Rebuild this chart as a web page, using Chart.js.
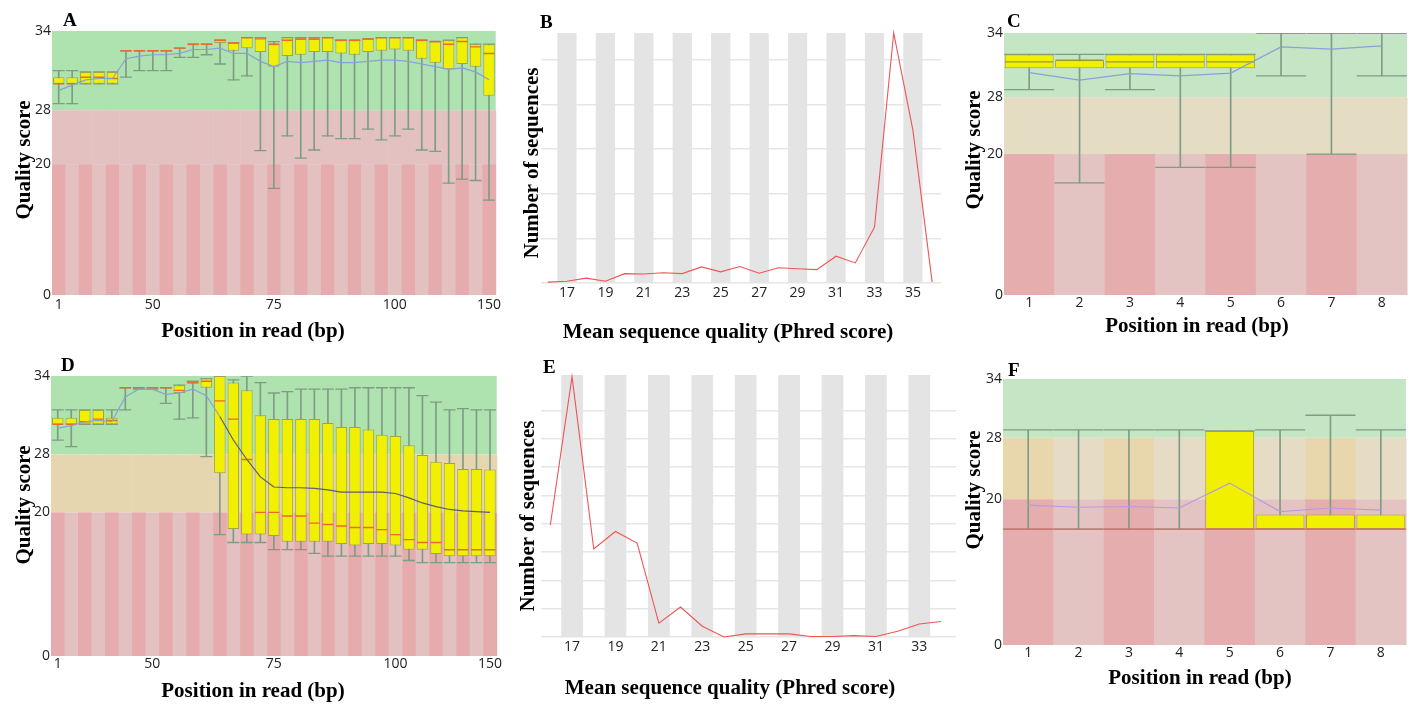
<!DOCTYPE html>
<html><head><meta charset="utf-8">
<script src="https://cdn.jsdelivr.net/npm/chart.js@4.4.1/dist/chart.umd.min.js"></script>
<style>
body{margin:0;background:#fff;width:1412px;height:711px;position:relative;overflow:hidden}
canvas{position:absolute}
.lbl{position:absolute;font-weight:bold;font-family:"Liberation Serif","Times New Roman",serif;color:#000;white-space:nowrap;line-height:1}
.letter{font-size:19px}
.xt{font-size:21px;transform:translate(-50%,-50%)}
.yt{font-size:21px;transform:translate(-50%,-50%) rotate(-90deg)}
</style></head><body>
<canvas id="cB"></canvas><canvas id="cE"></canvas>
<canvas id="cA"></canvas><canvas id="cC"></canvas>
<canvas id="cD"></canvas><canvas id="cF"></canvas>
<div class="lbl letter" style="left:63px;top:10px">A</div>
<div class="lbl letter" style="left:540px;top:12px">B</div>
<div class="lbl letter" style="left:1007px;top:11px">C</div>
<div class="lbl letter" style="left:61px;top:355px">D</div>
<div class="lbl letter" style="left:543px;top:357px">E</div>
<div class="lbl letter" style="left:1008px;top:360px">F</div>
<div class="lbl xt" style="left:253px;top:330px">Position in read (bp)</div>
<div class="lbl xt" style="left:728px;top:331px">Mean sequence quality (Phred score)</div>
<div class="lbl xt" style="left:1197px;top:325px">Position in read (bp)</div>
<div class="lbl xt" style="left:253px;top:690px">Position in read (bp)</div>
<div class="lbl xt" style="left:730px;top:687px">Mean sequence quality (Phred score)</div>
<div class="lbl xt" style="left:1200px;top:677px">Position in read (bp)</div>
<div class="lbl yt" style="left:23px;top:160px">Quality score</div>
<div class="lbl yt" style="left:531px;top:163px">Number of sequences</div>
<div class="lbl yt" style="left:973px;top:150px">Quality score</div>
<div class="lbl yt" style="left:23px;top:505px">Quality score</div>
<div class="lbl yt" style="left:527px;top:516px">Number of sequences</div>
<div class="lbl yt" style="left:973px;top:490px">Quality score</div>
<script>
// ---------- DATA ----------
const longPositions = ['1','','','','','','','50','','','','','','','','','75','','','','','','','','','100','','','','','','','150'];
const shortPositions = ['1','2','3','4','5','6','7','8'];
const qualityTicks = [0, 20, 28, 34];

// Panel A
const aWhiskerLow  = [28.5,28.5,30.0,30.0,30.0,30.5,31.0,31.0,31.0,32.0,32.0,32.2,31.5,30.3,30.6,22.0,16.3,24.2,20.9,22.1,24.2,23.8,23.8,25.2,23.6,24.2,25.2,22.1,21.9,17.1,17.7,17.5,14.5];
const aQ1          = [30.0,30.0,30.0,30.0,30.0,32.5,32.5,32.5,32.5,32.7,32.9,33.0,33.1,32.5,32.7,32.4,31.3,32.1,32.2,32.4,32.4,32.3,32.2,32.4,32.5,32.6,32.5,31.9,31.6,31.1,31.5,31.3,29.1];
const aMedian      = [30.0,30.0,30.5,30.5,30.4,32.5,32.5,32.5,32.5,32.7,33.0,33.0,33.3,33.1,33.5,33.4,33.0,33.3,33.4,33.4,33.5,33.3,33.3,33.4,33.5,33.5,33.5,33.3,33.2,33.0,33.2,32.8,32.3];
const aQ3          = [30.5,30.5,30.9,30.9,30.9,32.5,32.5,32.5,32.5,32.7,33.0,33.0,33.3,33.1,33.5,33.5,33.0,33.5,33.4,33.4,33.5,33.3,33.3,33.4,33.5,33.5,33.5,33.3,33.2,33.3,33.5,33.0,33.0];
const aWhiskerHigh = [31.0,31.0,30.9,30.9,30.9,32.5,32.5,32.5,32.5,32.7,33.0,33.0,33.3,33.1,33.5,33.5,33.2,33.5,33.5,33.5,33.5,33.3,33.3,33.4,33.5,33.5,33.5,33.3,33.2,33.3,33.5,33.0,33.0];
const aMean        = [29.5,29.9,30.3,30.4,30.4,31.9,32.1,32.2,32.2,32.3,32.6,32.6,32.7,32.3,32.3,31.7,31.3,31.7,31.6,31.7,31.8,31.6,31.6,31.7,31.8,31.8,31.7,31.5,31.3,31.1,31.2,30.9,30.3];

// Panel B
const bQuality = [16,17,18,19,20,21,22,23,24,25,26,27,28,29,30,31,32,33,34,35,36];
const bCounts  = [0.02,0.04,0.11,0.04,0.21,0.20,0.23,0.21,0.36,0.25,0.37,0.22,0.34,0.32,0.30,0.60,0.45,1.25,5.6,3.42,0.02];
const bTickValues = [17,19,21,23,25,27,29,31,33,35];

// Panel C
const cWhiskerLow  = [28.7,15.9,28.7,18.1,18.1,30.0,20.0,30.0];
const cQ1          = [30.7,30.7,30.7,30.7,30.7,34,34,34];
const cMedian      = [31.3,31.45,31.3,31.3,31.3,34,34,34];
const cQ3          = [32.0,31.45,32.0,32.0,32.0,34,34,34];
const cWhiskerHigh = [32.0,32.0,32.0,32.0,32.0,34,34,34];
const cMean        = [30.3,29.6,30.2,30.0,30.25,32.7,32.5,32.8];

// Panel D
const dWhiskerLow  = [29.1,28.6,30.3,30.3,30.3,31.4,33.0,33.0,31.9,30.7,30.8,27.7,16.9,15.8,15.8,15.8,14.8,14.8,14.8,14.3,13.9,13.9,13.9,13.9,13.9,13.9,13.3,13.0,13.0,13.0,13.0,13.0,13.0];
const dQ1          = [30.3,30.3,30.3,30.3,30.3,33.1,33.1,33.1,33.1,32.7,33.4,33.1,25.4,17.7,16.9,16.9,16.7,15.9,15.9,15.9,15.9,15.6,15.4,15.6,15.6,15.4,14.8,14.8,14.2,13.9,13.9,13.9,13.9];
const dMedian      = [30.3,30.3,30.5,30.7,30.6,33.1,33.1,33.1,33.1,32.9,33.5,33.6,32.1,30.7,27.3,20.0,20.0,19.5,19.5,18.5,18.3,18.1,17.9,17.9,17.6,16.9,16.2,15.8,15.8,14.8,14.8,14.8,14.8];
const dQ3          = [30.8,30.8,31.4,31.4,30.8,33.1,33.1,33.1,33.1,33.3,33.6,33.8,34.0,33.5,32.9,31.0,30.7,30.7,30.7,30.7,30.4,30.1,30.1,29.9,29.5,29.4,28.7,27.9,27.0,26.8,26.0,26.0,25.9];
const dWhiskerHigh = [31.4,31.4,31.4,31.4,31.4,33.1,33.1,33.1,33.1,33.3,33.6,33.8,34.0,33.7,34.0,33.5,32.7,32.8,33.0,33.0,33.0,33.0,33.1,33.1,33.1,33.1,33.1,32.5,32.0,31.4,31.5,31.4,31.4];
const dMean        = [30.0,30.2,30.5,30.6,30.5,32.4,33.0,33.0,32.6,32.7,33.0,32.5,30.9,29.1,27.3,24.9,23.5,23.4,23.4,23.3,23.1,22.8,22.8,22.8,22.8,22.6,22.0,21.3,20.8,20.4,20.2,20.1,20.0];

// Panel E
const eQuality = [16,17,18,19,20,21,22,23,24,25,26,27,28,29,30,31,32,33,34];
const eCounts  = [3.96,9.2,3.11,3.73,3.32,0.49,1.06,0.38,0.0,0.11,0.11,0.11,0.02,0.02,0.05,0.02,0.2,0.46,0.55];
const eTickValues = [17,19,21,23,25,27,29,31,33];

// Panel F
const fWhiskerLow  = [15.9,15.9,15.9,15.9,15.9,15.9,15.9,15.9];
const fQ1          = [15.9,15.9,15.9,15.9,15.9,15.9,15.9,15.9];
const fMedian      = [15.9,15.9,15.9,15.9,15.9,15.9,15.9,15.9];
const fQ3          = [15.9,15.9,15.9,15.9,28.7,17.9,17.9,17.9];
const fWhiskerHigh = [28.8,28.8,28.8,28.8,28.7,28.8,30.3,28.8];
const fMean        = [19.2,18.9,19.0,18.8,22.1,18.3,18.8,18.5];

// ---------- HELPERS ----------
const TICK_FONT = {family:'"Open Sans","Liberation Sans",sans-serif', size:14};
Chart.defaults.animation = false;
Chart.defaults.events = [];
Chart.defaults.plugins.legend.display = false;
Chart.defaults.plugins.tooltip.enabled = false;

function place(id, left, top, w, h){
  const c = document.getElementById(id);
  c.style.left = left+'px'; c.style.top = top+'px';
  c.width = w; c.height = h; c.style.width = w+'px'; c.style.height = h+'px';
  return c;
}
// piecewise quality axis (34 / 28 / 20 / 0 break points, fractions of plot height)
function makeMap(f20, f28){
  return q => q <= 20 ? q/20*f20 : (q <= 28 ? f20 + (q-20)/8*(f28-f20) : f28 + (q-28)/6*(1-f28));
}

const bandPlugin = {
  id:'bands',
  beforeDatasetsDraw(chart, args, o){
    if(!o || !o.map) return;
    const {ctx, chartArea:ca, scales:{x, y}} = chart;
    const M = o.map, n = chart.data.labels.length;
    const half = ca.width / n / 2;
    const py = q => y.getPixelForValue(M(q));
    ctx.save();
    ctx.fillStyle = o.green;
    ctx.fillRect(ca.left, py(34), ca.width, py(28)-py(34));
    for(let i=0;i<n;i++){
      const xl = x.getPixelForValue(i) - half;
      ctx.fillStyle = o.mid[i%2];
      ctx.fillRect(xl, py(28), half*2+0.5, py(20)-py(28));
      ctx.fillStyle = o.low[i%2];
      ctx.fillRect(xl, py(20), half*2+0.5, py(0)-py(20));
    }
    ctx.restore();
  }
};
const stripePlugin = {
  id:'stripes',
  beforeDatasetsDraw(chart, args, o){
    if(!o || !o.values) return;
    const {ctx, chartArea:ca, scales:{x}} = chart;
    ctx.save();
    ctx.fillStyle = o.color;
    o.values.forEach(v=>{
      const l = x.getPixelForValue(v-0.5), r = x.getPixelForValue(v+0.5);
      ctx.fillRect(l, ca.top, r-l, ca.bottom-ca.top);
    });
    ctx.restore();
  }
};
Chart.register(bandPlugin, stripePlugin);

function qualityChart(cfg){
  const M = makeMap(cfg.f20, cfg.f28);
  const c = place(cfg.id, cfg.left, cfg.top, cfg.w, cfg.h);
  const datasets = [
    {type:'bar', data:cfg.wlo.map((v,i)=>[M(v), M(cfg.whi[i])]), backgroundColor:'#7f9c85', barThickness:1, grouped:false, order:5},
    {type:'line', data:cfg.whi.map(M), showLine:false, pointStyle:'line', pointRadius:cfg.capR, pointBorderColor:'#7f9c85', pointBorderWidth:1.3, order:4},
    {type:'line', data:cfg.wlo.map(M), showLine:false, pointStyle:'line', pointRadius:cfg.capR, pointBorderColor:'#7f9c85', pointBorderWidth:1.3, order:4},
    {type:'bar', data:cfg.q1.map((v,i)=>[M(v), M(cfg.q3[i])]), backgroundColor:'#f0f000', borderColor:'#a3a340', borderWidth:1, borderSkipped:false, barPercentage:cfg.boxPct, categoryPercentage:1, grouped:false, order:3},
    {type:'line', data:cfg.med.map(M), showLine:false, pointStyle:'line', pointRadius:cfg.medR, pointBorderColor:cfg.medColor, pointBorderWidth:1.4, order:2},
    {type:'line', data:cfg.mean.map(M), borderColor:cfg.meanColor, borderWidth:1.2, pointRadius:0, tension:0, order:1,
      segment: cfg.meanDark ? {borderColor: ctx => ctx.p0DataIndex >= cfg.meanDark ? '#5f5f6a' : cfg.meanColor} : undefined}
  ];
  return new Chart(c, {
    type:'bar',
    data:{labels:cfg.labels, datasets},
    options:{
      responsive:false, maintainAspectRatio:false,
      layout:{autoPadding:false, padding:{top:cfg.padTop, right:cfg.padRight, left:0, bottom:0}},
      plugins:{bands:{map:M, green:cfg.green, mid:cfg.mid, low:cfg.low}},
      scales:{
        x:{type:'category', offset:true, grid:{display:false, drawTicks:false}, border:{display:false},
           ticks:{autoSkip:false, maxRotation:0, padding:cfg.xPad, color:'#222', font:TICK_FONT},
           afterFit: s => { s.height = cfg.xH; }},
        y:{type:'linear', min:0, max:1, grid:{display:false, drawTicks:false}, border:{display:false},
           afterBuildTicks: s => { s.ticks = qualityTicks.map(q=>({value:M(q)})); },
           ticks:{padding:1, color:'#222', font:TICK_FONT, callback:(v,i)=>String(qualityTicks[i])},
           afterFit: s => { s.width = cfg.yW; }}
      }
    }
  });
}

function histChart(cfg){
  const c = place(cfg.id, cfg.left, cfg.top, cfg.w, cfg.h);
  return new Chart(c, {
    type:'line',
    data:{datasets:[{data:cfg.xs.map((q,i)=>({x:q, y:cfg.ys[i]})), borderColor:'#ee5555', borderWidth:1.1, pointRadius:0, tension:0, clip:false}]},
    options:{
      responsive:false, maintainAspectRatio:false,
      layout:{autoPadding:false, padding:{top:cfg.padTop, right:cfg.padRight, left:0, bottom:0}},
      plugins:{stripes:{values:cfg.ticks, color:'#e4e4e4'}},
      scales:{
        x:{type:'linear', min:cfg.xmin, max:cfg.xmax, grid:{display:false, drawTicks:false}, border:{display:false},
           afterBuildTicks: s => { s.ticks = cfg.ticks.map(v=>({value:v})); },
           ticks:{padding:cfg.xPad, color:'#222', font:TICK_FONT, maxRotation:0, autoSkip:false},
           afterFit: s => { s.height = cfg.xH; }},
        y:{type:'linear', min:0, max:cfg.ymax,
           grid:{color: c => Number.isInteger(c.tick.value) ? '#e6e6e6' : 'rgba(0,0,0,0)', drawTicks:false, lineWidth:1.5}, border:{display:false},
           ticks:{display:false, stepSize:1},
           afterFit: s => { s.width = cfg.yW; }}
      }
    }
  });
}

// ---------- CHARTS ----------
histChart({id:'cB', left:500, top:0, w:450, h:320, padTop:33, padRight:9, yW:41, xH:37, xPad:2,
  xs:bQuality, ys:bCounts, ticks:bTickValues, xmin:15.65, xmax:36.46, ymax:5.6});

histChart({id:'cE', left:500, top:360, w:460, h:330, padTop:15, padRight:4, yW:41, xH:53, xPad:2,
  xs:eQuality, ys:eCounts, ticks:eTickValues, xmin:15.57, xmax:34.69, ymax:9.26});

qualityChart({id:'cA', left:0, top:0, w:503, h:320, padTop:31, padRight:0, yW:52, xH:25, xPad:2,
  f20:0.4956, f28:0.700, labels:longPositions, wlo:aWhiskerLow, q1:aQ1, med:aMedian, q3:aQ3, whi:aWhiskerHigh, mean:aMean,
  capR:6, medR:5.5, boxPct:0.85, medColor:'#ec6a2a', meanColor:'#8aa0d8',
  green:'#aee2ae', mid:['#e4c1c1','#e4c1c1'], low:['#e5abad','#e4c1c1']});

qualityChart({id:'cC', left:960, top:0, w:452, h:320, padTop:33, padRight:5, yW:44, xH:25, xPad:0,
  f20:0.538, f28:0.755, labels:shortPositions, wlo:cWhiskerLow, q1:cQ1, med:cMedian, q3:cQ3, whi:cWhiskerHigh, mean:cMean,
  capR:25, medR:24, boxPct:0.97, medColor:'#9a9a30', meanColor:'#8aa0d8',
  green:'#c4e6c4', mid:['#e5dcc4','#e5dcc4'], low:['#e5adad','#e4c3c3']});

qualityChart({id:'cD', left:0, top:360, w:502, h:330, padTop:16, padRight:0, yW:51, xH:34, xPad:0,
  f20:0.513, f28:0.720, labels:longPositions, wlo:dWhiskerLow, q1:dQ1, med:dMedian, q3:dQ3, whi:dWhiskerHigh, mean:dMean,
  capR:6, medR:5.5, boxPct:0.85, medColor:'#ec6a2a', meanColor:'#8aa0d8', meanDark:12,
  green:'#aee2ae', mid:['#e6d6b0','#e6d6b0'], low:['#e5abad','#e4c1c1']});

qualityChart({id:'cF', left:960, top:360, w:452, h:330, padTop:19, padRight:6, yW:43, xH:45, xPad:0,
  f20:0.548, f28:0.779, labels:shortPositions, wlo:fWhiskerLow, q1:fQ1, med:fMedian, q3:fQ3, whi:fWhiskerHigh, mean:fMean,
  capR:25, medR:25, boxPct:0.97, medColor:'#e06868', meanColor:'#b89ae0',
  green:'#c4e6c4', mid:['#e8d6ad','#e6dcc6'], low:['#e5adad','#e4c3c3']});
</script>
</body></html>
